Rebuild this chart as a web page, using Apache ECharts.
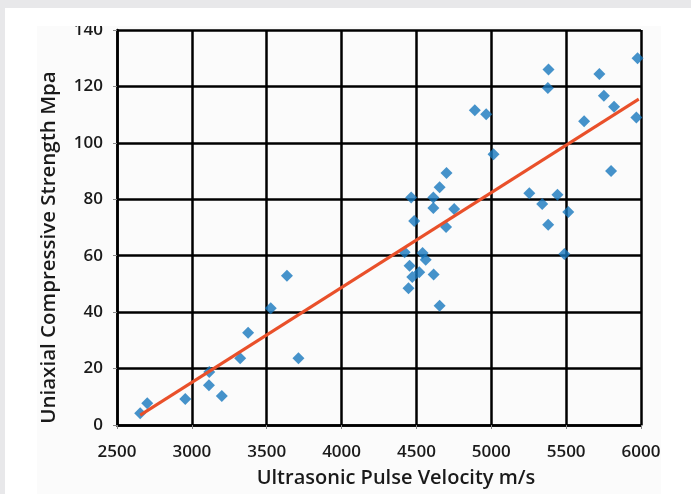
<!DOCTYPE html>
<html>
<head>
<meta charset="utf-8">
<script src="https://cdn.jsdelivr.net/npm/echarts@6/dist/echarts.min.js"></script>
<style>
html,body{margin:0;padding:0;width:691px;height:494px;background:#e8e8ea;overflow:hidden;}
#panel{position:absolute;left:5px;top:8px;width:686px;height:486px;background:#ffffff;}
#clip{position:absolute;left:37px;top:26px;width:624px;height:468px;overflow:hidden;background:#fbfbfb;}
#chart{position:absolute;left:0;top:0;width:625px;height:468px;}
</style>
</head>
<body>
<div id="panel"></div>
<div id="clip"><div id="chart"></div></div>
<script>
const velocity = [2655,2702,2956,3116,3114,3200,3323,3376,3527,3635,3712,
  4421,4454,4447,4472,4519,4541,4562,4615,4655,4465,4485,4613,4613,4655,4701,4698,4752,
  4890,4966,5015,5254,5340,5380,5442,5382,5378,5488,5514,5620,5722,5752,5820,5800,5969,5977];
const strength = [4.2,7.7,9.2,18.8,14.1,10.3,23.7,32.7,41.4,52.9,23.7,
  61.2,56.4,48.5,52.5,54.1,61.0,58.6,53.3,42.3,80.6,72.3,80.6,76.9,84.3,89.3,70.2,76.6,
  111.6,110.1,96.0,82.1,78.3,71.0,81.6,126.0,119.4,60.6,75.5,107.7,124.4,116.7,112.8,90.0,109.0,130.0];
const trendX = [2655, 5985];
const trendY = [3.5, 115.5];
const xTicks = [2500,3000,3500,4000,4500,5000,5500,6000];
const yTicks = [0,20,40,60,80,100,120,140];
const xTitle = 'Ultrasonic Pulse Velocity m/s';
const yTitle = 'Uniaxial Compressive Strength Mpa';

const font = 'Open Sans';
const chart = echarts.init(document.getElementById('chart'), null, {renderer:'canvas'});
chart.setOption({
  animation:false,
  backgroundColor:'#fbfbfb',
  grid:{left:80,right:21,top:4,bottom:69,containLabel:false,outerBoundsMode:'none'},
  xAxis:{
    type:'value', min:xTicks[0], max:xTicks[xTicks.length-1], interval:500,
    name:xTitle, nameLocation:'middle', nameGap:43,
    nameTextStyle:{fontFamily:font,fontSize:20,fontWeight:600,color:'#1a1a1a',padding:[0,0,0,34]},
    axisLine:{show:true,onZero:false,lineStyle:{color:'#000',width:2.5}},
    axisTick:{show:true,length:4,lineStyle:{color:'#888',width:1}},
    axisLabel:{fontFamily:font,fontSize:17,fontWeight:600,color:'#1a1a1a',margin:19,
      formatter:v=>String(v)},
    splitLine:{show:true,lineStyle:{color:'#000',width:2.5}}
  },
  yAxis:{
    type:'value', min:yTicks[0], max:yTicks[yTicks.length-1], interval:20,
    name:yTitle, nameLocation:'middle', nameGap:57,
    nameTextStyle:{fontFamily:font,fontSize:20.5,fontWeight:600,color:'#1a1a1a',padding:[0,40,0,0]},
    axisLine:{show:true,onZero:false,lineStyle:{color:'#000',width:2.5}},
    axisTick:{show:true,length:4,lineStyle:{color:'#888',width:1}},
    axisLabel:{fontFamily:font,fontSize:17,fontWeight:600,color:'#1a1a1a',margin:14,
      formatter:v=>String(v)},
    splitLine:{show:true,lineStyle:{color:'#000',width:2.5}}
  },
  series:[
    {
      type:'scatter', symbol:'diamond', symbolSize:12,
      itemStyle:{color:'#1878be'},
      data: velocity.map((v,i)=>[v,strength[i]]), z:3
    },
    {
      type:'line', symbol:'none', lineStyle:{color:'#e9502a',width:3},
      data: trendX.map((v,i)=>[v,trendY[i]]), z:4
    }
  ]
});
</script>
</body>
</html>
